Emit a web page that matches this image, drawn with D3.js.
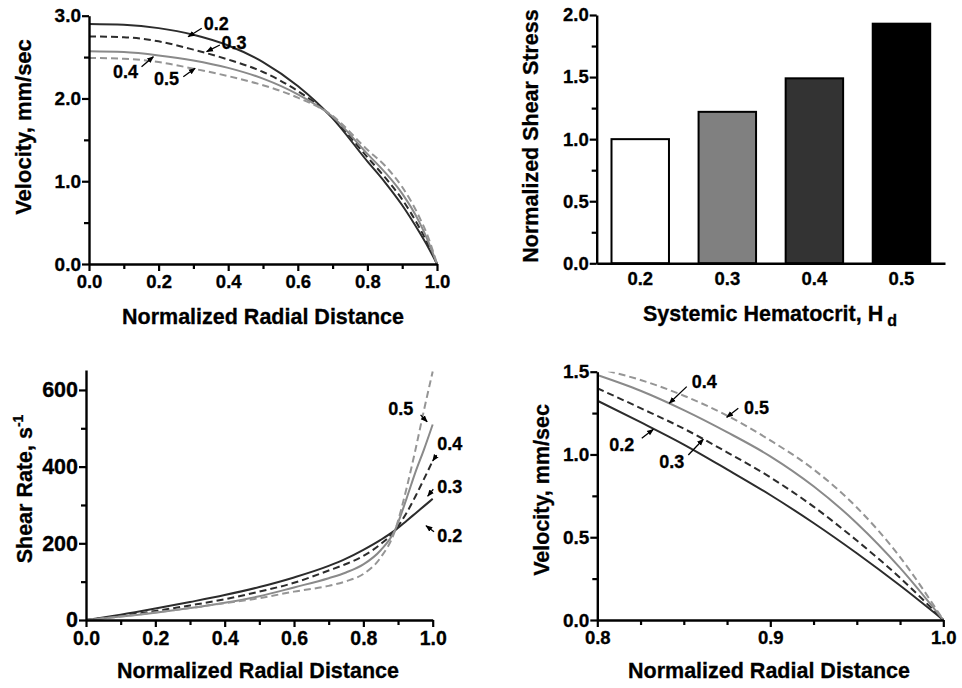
<!DOCTYPE html>
<html><head><meta charset="utf-8">
<script src="https://cdn.jsdelivr.net/npm/d3@7"></script>
<style>
html,body{margin:0;padding:0;background:#fff;}
svg{display:block;}
text{font-family:"Liberation Sans",Arial,Helvetica,sans-serif;font-weight:bold;fill:#000;stroke:#000;stroke-width:0.3px;}
</style></head><body>
<svg id="chart" width="962" height="688"></svg>
<script>
// ---------------- DATA ----------------
const hematocrits = ["0.2", "0.3", "0.4", "0.5"];

// Panel A: velocity profile over the whole radius
const radiusA = [0, 0.1, 0.2, 0.3, 0.4, 0.5, 0.6, 0.7, 0.8, 0.85, 0.9, 0.95, 0.975, 1.0];
const velocityA_02 = [2.90, 2.89, 2.85, 2.77, 2.64, 2.44, 2.15, 1.76, 1.24, 0.99, 0.71, 0.38, 0.20, 0];
const velocityA_03 = [2.75, 2.74, 2.69, 2.59, 2.47, 2.32, 2.09, 1.77, 1.29, 1.05, 0.78, 0.435, 0.235, 0];
const velocityA_04 = [2.57, 2.56, 2.52, 2.46, 2.37, 2.24, 2.05, 1.78, 1.33, 1.11, 0.85, 0.50, 0.27, 0];
const velocityA_05 = [2.49, 2.48, 2.44, 2.36, 2.27, 2.16, 2.01, 1.79, 1.38, 1.19, 0.93, 0.56, 0.32, 0];

// Panel B: normalized wall shear stress
const shearStress = [1.00, 1.22, 1.49, 1.93];

// Panel C: shear rate profile
const radiusC = [0, 0.1, 0.2, 0.3, 0.4, 0.5, 0.6, 0.7, 0.75, 0.8, 0.85, 0.89, 0.925, 0.95, 0.975, 1.0];
const shearRate_02 = [0, 14, 30, 47, 65, 86, 111, 141, 160, 183, 209, 233, 259, 278, 297, 316];
const shearRate_03 = [0, 11, 23.5, 38, 54, 74, 97, 129, 146, 167, 198, 232, 280, 322, 368, 415];
const shearRate_04 = [0, 9, 19, 31, 45, 62, 85, 109, 124, 145, 182, 232, 318, 385, 445, 510];
const shearRate_05 = [0, 9, 20, 31, 44, 57, 74, 89, 101, 120, 163, 230, 345, 443, 548, 648];

// Panel D: velocity near the wall
const radiusD = [0.8, 0.825, 0.85, 0.875, 0.9, 0.925, 0.95, 0.975, 1.0];
const velocityD_02 = [1.325, 1.195, 1.06, 0.91, 0.755, 0.586, 0.403, 0.208, 0];
const velocityD_03 = [1.40, 1.28, 1.156, 1.013, 0.862, 0.685, 0.48, 0.255, 0];
const velocityD_04 = [1.48, 1.385, 1.268, 1.135, 0.989, 0.808, 0.585, 0.315, 0];
const velocityD_05 = [1.52, 1.45, 1.355, 1.235, 1.085, 0.91, 0.68, 0.38, 0];

// Tick values
const ticksA_x = [0, 0.2, 0.4, 0.6, 0.8, 1.0];
const ticksA_y = [0, 1, 2, 3];
const ticksB_y = [0, 0.5, 1.0, 1.5, 2.0];
const ticksC_x = [0, 0.2, 0.4, 0.6, 0.8, 1.0];
const ticksC_y = [0, 200, 400, 600];
const ticksD_x = [0.8, 0.9, 1.0];
const ticksD_y = [0, 0.5, 1.0, 1.5];

// Annotation labels (data coordinates: text anchor, arrow start, arrow tip)
const labelsA = [
  {t: "0.2", tx: 0.330, ty: 2.827, x1: 0.324, y1: 2.848, x2: 0.285, y2: 2.746},
  {t: "0.3", tx: 0.381, ty: 2.594, x1: 0.376, y1: 2.646, x2: 0.338, y2: 2.565},
  {t: "0.4", tx: 0.069, ty: 2.247, x1: 0.151, y1: 2.384, x2: 0.185, y2: 2.505},
  {t: "0.5", tx: 0.187, ty: 2.162, x1: 0.271, y1: 2.263, x2: 0.305, y2: 2.364}
];
const labelsC = [
  {t: "0.5", tx: 0.872, ty: 535, x1: 0.965, y1: 535, x2: 0.984, y2: 517},
  {t: "0.4", tx: 1.013, ty: 443, x1: 1.0115, y1: 430, x2: 1.0, y2: 415},
  {t: "0.3", tx: 1.013, ty: 332, x1: 1.0017, y1: 341, x2: 0.9856, y2: 323},
  {t: "0.2", tx: 1.013, ty: 204, x1: 1.0038, y1: 230, x2: 0.9807, y2: 246}
];
const labelsD = [
  {t: "0.4", tx: 0.8546, ty: 1.400, x1: 0.8517, y1: 1.410, x2: 0.8416, y2: 1.309},
  {t: "0.5", tx: 0.8848, ty: 1.245, x1: 0.8815, y1: 1.279, x2: 0.8748, y2: 1.225},
  {t: "0.2", tx: 0.8069, ty: 1.023, x1: 0.8257, y1: 1.098, x2: 0.8324, y2: 1.152},
  {t: "0.3", tx: 0.8358, ty: 0.917, x1: 0.8526, y1: 0.997, x2: 0.8613, y2: 1.092}
];

// ---------------- STYLES ----------------
const seriesStyle = {
  "0.2": {stroke: "#2c2c2c", dash: null},
  "0.3": {stroke: "#2c2c2c", dash: "7,4"},
  "0.4": {stroke: "#8a8a8a", dash: null},
  "0.5": {stroke: "#959595", dash: "7,4"}
};
const barFill = {"0.2": "#ffffff", "0.3": "#808080", "0.4": "#333333", "0.5": "#000000"};

const svg = d3.select("#chart");
svg.append("rect").attr("width", 962).attr("height", 688).attr("fill", "#fff");
const defs = svg.append("defs");
defs.append("marker").attr("id", "ah").attr("viewBox", "0 0 10 10")
  .attr("refX", 9).attr("refY", 5).attr("markerWidth", 7).attr("markerHeight", 7)
  .attr("markerUnits", "userSpaceOnUse").attr("orient", "auto")
  .append("path").attr("d", "M0,1L10,5L0,9Z").attr("fill", "#000");

function styleAxis(g, fs) {
  g.attr("font-size", fs || 19).attr("font-family", null);
  g.selectAll(".domain").attr("stroke", "#000").attr("stroke-width", 2.4);
  g.selectAll(".tick line").attr("stroke", "#000").attr("stroke-width", 2.2);
  g.selectAll(".tick text").attr("fill", "#000");
}
function drawAxis(parent, scale, dir, major, minor, fmt, tr, fs) {
  const mk = dir === "bottom" ? d3.axisBottom : d3.axisLeft;
  if (minor && minor.length) {
    const gm = parent.append("g").attr("transform", tr)
      .call(mk(scale).tickValues(minor).tickFormat("").tickSize(5).tickSizeOuter(0));
    gm.select(".domain").remove();
    styleAxis(gm, fs);
  }
  const g = parent.append("g").attr("transform", tr)
    .call(mk(scale).tickValues(major).tickFormat(fmt).tickSize(7).tickSizeOuter(0)
      .tickPadding(dir === "bottom" ? 4 : 1));
  styleAxis(g, fs);
  return g;
}
function range(a, b, s) { const out = []; for (let v = a; v <= b + 1e-9; v += s) out.push(+v.toFixed(4)); return out; }

function drawLines(g, xs, ys, xArr, seriesArr, clipId) {
  const line = d3.line().x((d, i) => xs(xArr[i])).y(d => ys(d)).curve(d3.curveMonotoneX);
  const lg = g.append("g").attr("clip-path", clipId ? "url(#" + clipId + ")" : null);
  seriesArr.forEach((vals, k) => {
    const st = seriesStyle[hematocrits[k]];
    lg.append("path").datum(vals).attr("d", line).attr("fill", "none")
      .attr("stroke", st.stroke).attr("stroke-width", 2)
      .attr("stroke-dasharray", st.dash);
  });
}
function drawLabels(g, xs, ys, labels) {
  labels.forEach(l => {
    g.append("line").attr("x1", xs(l.x1)).attr("y1", ys(l.y1))
      .attr("x2", xs(l.x2)).attr("y2", ys(l.y2))
      .attr("stroke", "#000").attr("stroke-width", 1.3).attr("marker-end", "url(#ah)");
    g.append("text").attr("x", xs(l.tx)).attr("y", ys(l.ty)).attr("font-size", 18).text(l.t);
  });
}
function clip(id, x0, y0, w, h) {
  defs.append("clipPath").attr("id", id).append("rect").attr("x", x0).attr("y", y0).attr("width", w).attr("height", h);
}
const f1 = d3.format(".1f");

// ---------------- PANEL A ----------------
{
  const x = d3.scaleLinear().domain([0, 1]).range([89, 437]);
  const y = d3.scaleLinear().domain([0, 3]).range([264, 15.7]);
  const g = svg.append("g");
  clip("clipA", 89, 15.7, 350, 250);
  drawLines(g, x, y, radiusA, [velocityA_02, velocityA_03, velocityA_04, velocityA_05], "clipA");
  drawAxis(g, x, "bottom", ticksA_x, range(0.1, 0.9, 0.2), f1, "translate(0,264)", 18.5);
  drawAxis(g, y, "left", ticksA_y, range(0.5, 2.5, 1), f1, "translate(89,0)", 19);
  drawLabels(g, x, y, labelsA);
  g.append("text").attr("x", 263).attr("y", 324).attr("text-anchor", "middle").attr("font-size", 21.5).text("Normalized Radial Distance");
  g.append("text").attr("transform", "translate(31,127) rotate(-90)").attr("text-anchor", "middle").attr("font-size", 22).text("Velocity, mm/sec");
}

// ---------------- PANEL B ----------------
{
  const x = d3.scaleBand().domain(hematocrits).range([596.7, 945]).paddingInner(0.34).paddingOuter(0.17);
  const y = d3.scaleLinear().domain([0, 2]).range([263.3, 15]);
  const g = svg.append("g");
  g.selectAll("rect.bar").data(hematocrits).enter().append("rect")
    .attr("x", d => x(d)).attr("width", x.bandwidth())
    .attr("y", (d, i) => y(shearStress[i])).attr("height", (d, i) => y(0) - y(shearStress[i]))
    .attr("fill", d => barFill[d]).attr("stroke", "#000").attr("stroke-width", 2);
  const gx = g.append("g").attr("transform", "translate(0,263.3)")
    .call(d3.axisBottom(x).tickSize(0).tickSizeOuter(0).tickPadding(9));
  styleAxis(gx, 18.5);
  drawAxis(g, y, "left", ticksB_y, range(0.25, 1.75, 0.5), f1, "translate(596.7,0)", 18.5);
  const t = g.append("text").attr("x", 770).attr("y", 321).attr("text-anchor", "middle").attr("font-size", 21.5);
  t.append("tspan").text("Systemic Hematocrit, H");
  t.append("tspan").attr("dx", 4).attr("dy", 5).attr("font-size", 16).text("d");
  g.append("text").attr("transform", "translate(538,136) rotate(-90)").attr("text-anchor", "middle").attr("font-size", 21.5).text("Normalized Shear Stress");
}

// ---------------- PANEL C ----------------
{
  const x = d3.scaleLinear().domain([0, 1]).range([86, 432.7]);
  const y = d3.scaleLinear().domain([0, 652]).range([620, 370]);
  const g = svg.append("g");
  clip("clipC", 86, 368, 350, 254);
  drawLines(g, x, y, radiusC, [shearRate_02, shearRate_03, shearRate_04, shearRate_05], "clipC");
  drawAxis(g, x, "bottom", ticksC_x, range(0.1, 0.9, 0.2), f1, "translate(0,620)", 19.5);
  drawAxis(g, y, "left", ticksC_y, [100, 300, 500], d3.format("d"), "translate(86,0)", 21.5);
  drawLabels(g, x, y, labelsC);
  g.append("text").attr("x", 258).attr("y", 678).attr("text-anchor", "middle").attr("font-size", 21.5).text("Normalized Radial Distance");
  const t = g.append("text").attr("transform", "translate(32,489) rotate(-90)").attr("text-anchor", "middle").attr("font-size", 21.5);
  t.append("tspan").text("Shear Rate, s");
  t.append("tspan").attr("dy", -9).attr("font-size", 14).text("-1");
}

// ---------------- PANEL D ----------------
{
  const x = d3.scaleLinear().domain([0.8, 1.0]).range([597.3, 943.3]);
  const y = d3.scaleLinear().domain([0, 1.5]).range([620, 371.7]);
  const g = svg.append("g");
  clip("clipD", 597.3, 371.7, 350, 250);
  drawLines(g, x, y, radiusD, [velocityD_02, velocityD_03, velocityD_04, velocityD_05], "clipD");
  drawAxis(g, x, "bottom", ticksD_x, [0.825, 0.85, 0.875, 0.925, 0.95, 0.975], f1, "translate(0,620)", 18.5);
  drawAxis(g, y, "left", ticksD_y, [0.25, 0.75, 1.25], f1, "translate(597.3,0)", 19);
  drawLabels(g, x, y, labelsD);
  g.append("text").attr("x", 769).attr("y", 678).attr("text-anchor", "middle").attr("font-size", 21.5).text("Normalized Radial Distance");
  g.append("text").attr("transform", "translate(549,490) rotate(-90)").attr("text-anchor", "middle").attr("font-size", 21.5).text("Velocity, mm/sec");
}
</script>
</body></html>
